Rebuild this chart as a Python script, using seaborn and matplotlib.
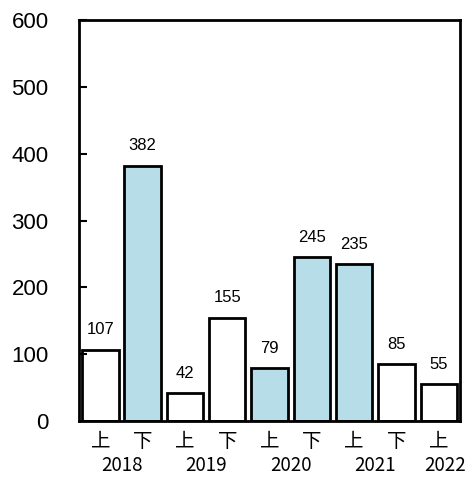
import matplotlib
matplotlib.use("Agg")
import matplotlib.pyplot as plt
import seaborn as sns
import pandas as pd

periods = ["2018上", "2018下", "2019上", "2019下", "2020上", "2020下", "2021上", "2021下", "2022上"]
half_labels = ["上", "下", "上", "下", "上", "下", "上", "下", "上"]
values = [107, 382, 42, 155, 79, 245, 235, 85, 55]
highlight = [False, True, False, False, True, True, True, False, False]
years = ["2018", "2019", "2020", "2021", "2022"]
year_pos = [0.5, 2.5, 4.5, 6.5, 8.15]

sns.set_style("ticks", rc={"text.color": "black", "axes.labelcolor": "black",
                           "xtick.color": "black", "ytick.color": "black",
                           "axes.edgecolor": "black"})
plt.rcParams['font.family'] = ['Noto Sans CJK JP', 'DejaVu Sans']
plt.rcParams['ytick.direction'] = 'in'
plt.rcParams['ytick.major.size'] = 6
plt.rcParams['ytick.major.width'] = 1.5
plt.rcParams['ytick.major.pad'] = 22
plt.rcParams['ytick.labelsize'] = 16
plt.rcParams['ytick.left'] = True
plt.rcParams['ytick.right'] = False

df = pd.DataFrame({"period": periods, "value": values})
colors = {p: ("#b7dde8" if h else "white") for p, h in zip(periods, highlight)}

fig = plt.figure(figsize=(4.66, 4.95), dpi=100)
ax = fig.add_axes([0.17, 0.149, 0.817, 0.811])
sns.barplot(data=df, x="period", y="value", hue="period", palette=colors,
            legend=False, width=0.86, edgecolor="black", linewidth=2, ax=ax,
            saturation=1)
ax.set_axisbelow(False)

ax.set_xlim(-0.5, 8.5)
ax.set_ylim(0, 600)
ax.set_yticks(range(0, 601, 100))
ax.set_xticks(range(len(half_labels)))
ax.set_xticklabels(half_labels, fontsize=14)
ax.set_xlabel("")
ax.set_ylabel("")
ax.tick_params(axis="x", length=0, pad=7, colors="black")
for lbl in ax.get_yticklabels():
    lbl.set_fontfamily(['Liberation Sans', 'DejaVu Sans'])

for c in ax.containers:
    ax.bar_label(c, padding=9, fontsize=12, color="black",
                 family=['Liberation Sans', 'DejaVu Sans'])

for y, xp in zip(years, year_pos):
    ax.text(xp, -0.11, y, transform=ax.get_xaxis_transform(), ha="center", va="center",
            fontsize=13.5, color="black", family=['Noto Sans CJK JP', 'DejaVu Sans'])

for s in ax.spines.values():
    s.set_visible(True)
    s.set_color("black")
    s.set_linewidth(2)

ax.yaxis.set_zorder(5)
for t in ax.yaxis.get_major_ticks():
    t.tick1line.set_visible(True)
    t.tick1line.set_markeredgecolor("black")
    t.tick1line.set_markeredgewidth(1.5)
    t.tick1line.set_markersize(6)
    t.tick1line.set_alpha(1)

fig.savefig("out.png", dpi=100)
